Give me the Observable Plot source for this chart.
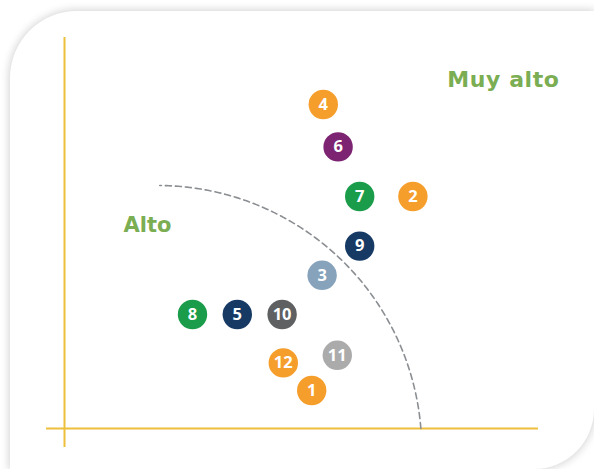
<!DOCTYPE html>
<html>
<head>
<meta charset="utf-8">
<script src="https://cdn.jsdelivr.net/npm/d3@7"></script>
<script src="https://cdn.jsdelivr.net/npm/@observablehq/plot@0.6"></script>
<style>
  html, body { margin: 0; padding: 0; background: #ffffff; overflow: hidden; }
  #wrap { position: relative; width: 594px; height: 469px; }
  #card {
    position: absolute; left: 10px; top: 11px; width: 584px; height: 458px;
    background: #ffffff;
    border-radius: 67px 0 60px 0;
    box-shadow: 0 0 9px 1px rgba(0,0,0,0.18);
  }
  #chart { position: absolute; left: 0; top: 0; }
</style>
</head>
<body>
<div id="wrap"><div id="card"></div><div id="chart"></div></div>
<script>
// Items (numbered circles)
const ids    = [1, 2, 3, 4, 5, 6, 7, 8, 9, 10, 11, 12];
const xVals  = [6.18, 8.71, 6.44, 6.47, 4.32, 6.84, 7.38, 3.20, 7.38, 5.44, 6.82, 5.47];
const yVals  = [0.95, 5.80, 3.83, 8.10, 2.85, 7.04, 5.80, 2.85, 4.56, 2.85, 1.83, 1.64];
const colors = ["#F59E2B", "#F59E2B", "#87A3BC", "#F59E2B", "#163A64", "#7C2371",
                "#1A9C4A", "#1A9C4A", "#163A64", "#5E6061", "#ABABAB", "#F59E2B"];

// Zone labels
const zoneLabels = ["Alto", "Muy alto"];
const zoneX = [1.475, 9.567];
const zoneY = [5.08, 8.72];
const zoneSize = [21, 22];

// Axis line extents
const vAxisY = [-0.475, 9.775];
const hAxisX = [-0.45, 11.85];

// Boundary arc (circle in data units)
const arcCenter = [2.33, -0.525];
const arcRadius = 6.6;
const arcAngles = [4.56, 89.8]; // degrees

const points = ids.map((id, i) => ({id, x: xVals[i], y: yVals[i], color: colors[i]}));
const labels = zoneLabels.map((t, i) => ({t, x: zoneX[i], y: zoneY[i], s: zoneSize[i]}));
const arc = d3.range(arcAngles[0], arcAngles[1] + 0.01, 0.5).map(a => ({
  x: arcCenter[0] + arcRadius * Math.cos(a * Math.PI / 180),
  y: arcCenter[1] + arcRadius * Math.sin(a * Math.PI / 180)
}));

const plot = Plot.plot({
  width: 594,
  height: 469,
  margin: 0,
  style: {background: "transparent", overflow: "visible"},
  x: {domain: [-1.6, 13.25], axis: null},
  y: {domain: [-1.025, 10.7], axis: null},
  marks: [
    Plot.ruleX([0], {y1: vAxisY[0], y2: vAxisY[1], stroke: "#EDBF3B", strokeWidth: 2}),
    Plot.ruleY([0], {x1: hAxisX[0], x2: hAxisX[1], stroke: "#EDBF3B", strokeWidth: 2}),
    Plot.line(arc, {x: "x", y: "y", stroke: "#8B8E92", strokeWidth: 1.6, strokeDasharray: "6,4"}),
    Plot.dot(points, {x: "x", y: "y", r: 14.7, fill: d => d.color, stroke: null}),
    Plot.text(points, {x: "x", y: "y", text: d => String(d.id), fill: "white",
      fontSize: 16.5, fontWeight: "bold", fontFamily: "Open Sans"}),
    Plot.text(labels.slice(0, 1), {x: "x", y: "y", text: "t", textAnchor: "start", fill: "#7BAD53",
      fontSize: 21, fontWeight: "bold", fontFamily: "DejaVu Sans"}),
    Plot.text(labels.slice(1), {x: "x", y: "y", text: "t", textAnchor: "start", fill: "#7BAD53",
      fontSize: 22, fontWeight: "bold", fontFamily: "DejaVu Sans"})
  ]
});
document.getElementById("chart").appendChild(plot);
d3.select(plot).selectAll("text").filter(function() { return this.textContent === "Muy alto"; })
  .attr("letter-spacing", "0.6px");
</script>
</body>
</html>
